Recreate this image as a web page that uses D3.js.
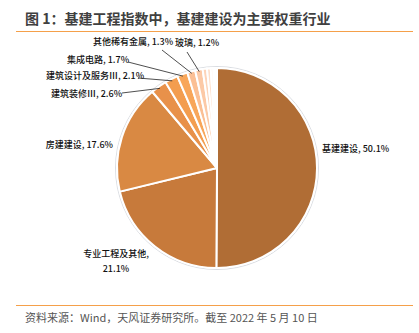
<!DOCTYPE html>
<html><head><meta charset="utf-8">
<script src="https://cdn.jsdelivr.net/npm/d3@7"></script>
<style>body{margin:0;background:#fff;}svg{display:block;}</style>
</head><body>
<script>
const categories = ["基建建设","专业工程及其他","房建建设","建筑装修Ⅲ","建筑设计及服务Ⅲ","集成电路","其他稀有金属","玻璃","其他1","其他2","其他3","其他4","其他5"];
const values = [50.1,21.1,17.6,2.6,2.1,1.7,1.3,1.2,0.7,0.6,0.4,0.3,0.3];
const labelTexts = ["基建建设, 50.1%","专业工程及其他,|21.1%","房建建设, 17.6%","建筑装修Ⅲ, 2.6%","建筑设计及服务Ⅲ, 2.1%","集成电路, 1.7%","其他稀有金属, 1.3%","玻璃, 1.2%","","","","",""];
const colors = ["#B06D35","#C77A3B","#D98943","#E8914A","#F39D4F","#F8A65A","#FBBF94","#FCC9A6","#FDD4B9","#FEDFCA","#FEE9DB","#FFF1E8","#FFF8F3"];

const W=419,H=333;
const svg=d3.select("body").append("svg").attr("width",W).attr("height",H);
const font="'Noto Sans CJK SC','Noto Sans',sans-serif";

svg.append("text").attr("x",25).attr("y",24).attr("font-family",font).attr("font-size",14).attr("font-weight","bold").attr("fill","#404040").text("图 1：基建工程指数中，基建建设为主要权重行业");
svg.append("line").attr("x1",16).attr("x2",413).attr("y1",31.5).attr("y2",31.5).attr("stroke","#F5A04A").attr("stroke-width",1.2);
svg.append("line").attr("x1",16).attr("x2",413).attr("y1",305.5).attr("y2",305.5).attr("stroke","#F5A04A").attr("stroke-width",1.2);
svg.append("text").attr("x",25).attr("y",322).attr("font-family",font).attr("font-size",11).attr("fill","#555").text("资料来源：Wind，天风证券研究所。截至 2022 年 5 月 10 日");

const cx=217,cy=168,R=100;
const g=svg.append("g").attr("transform",`translate(${cx},${cy})`);
const pie=d3.pie().sort(null).value(d=>d)(values);
const arc=d3.arc().innerRadius(0).outerRadius(R);
g.append("circle").attr("r",R+1.5).attr("fill","none").attr("stroke","#DADDE2").attr("stroke-width",1);
g.selectAll("path.s").data(pie).join("path").attr("class","s").attr("d",arc)
 .attr("fill",(d,i)=>colors[i]).attr("stroke","#fff").attr("stroke-width",2).attr("stroke-linejoin","round");

// label layout (positions only)
const labelPos = [
 {x:322,y:152,anchor:"start"},
 {x:116,y:257,anchor:"middle"},
 {x:113,y:148,anchor:"end"},
 {x:51,y:97,anchor:"start"},
 {x:46,y:79,anchor:"start"},
 {x:67,y:63,anchor:"start"},
 {x:93,y:45,anchor:"start"},
 {x:175,y:46,anchor:"start"}
];
const leaderStart = [null,null,null,[122,93],[138,78],[128,62],[162,50],[187,52]];
pie.forEach((d,i)=>{
  if(!labelTexts[i]) return;
  const p=labelPos[i];
  const parts=labelTexts[i].split("|");
  const t=svg.append("text").attr("x",p.x).attr("y",p.y).attr("text-anchor",p.anchor)
   .attr("font-family",font).attr("font-size",9).attr("font-weight",500).attr("fill","#111");
  parts.forEach((s,k)=>t.append("tspan").attr("x",p.x).attr("dy",k?15:0).text(s));
  if(leaderStart[i]){
    const a=(d.startAngle+d.endAngle)/2;
    const ex=cx+(R-2)*Math.sin(a), ey=cy-(R-2)*Math.cos(a);
    svg.append("line").attr("x1",leaderStart[i][0]).attr("y1",leaderStart[i][1]).attr("x2",ex).attr("y2",ey)
     .attr("stroke","#222").attr("stroke-width",0.8);
  }
});
</script>
</body></html>
